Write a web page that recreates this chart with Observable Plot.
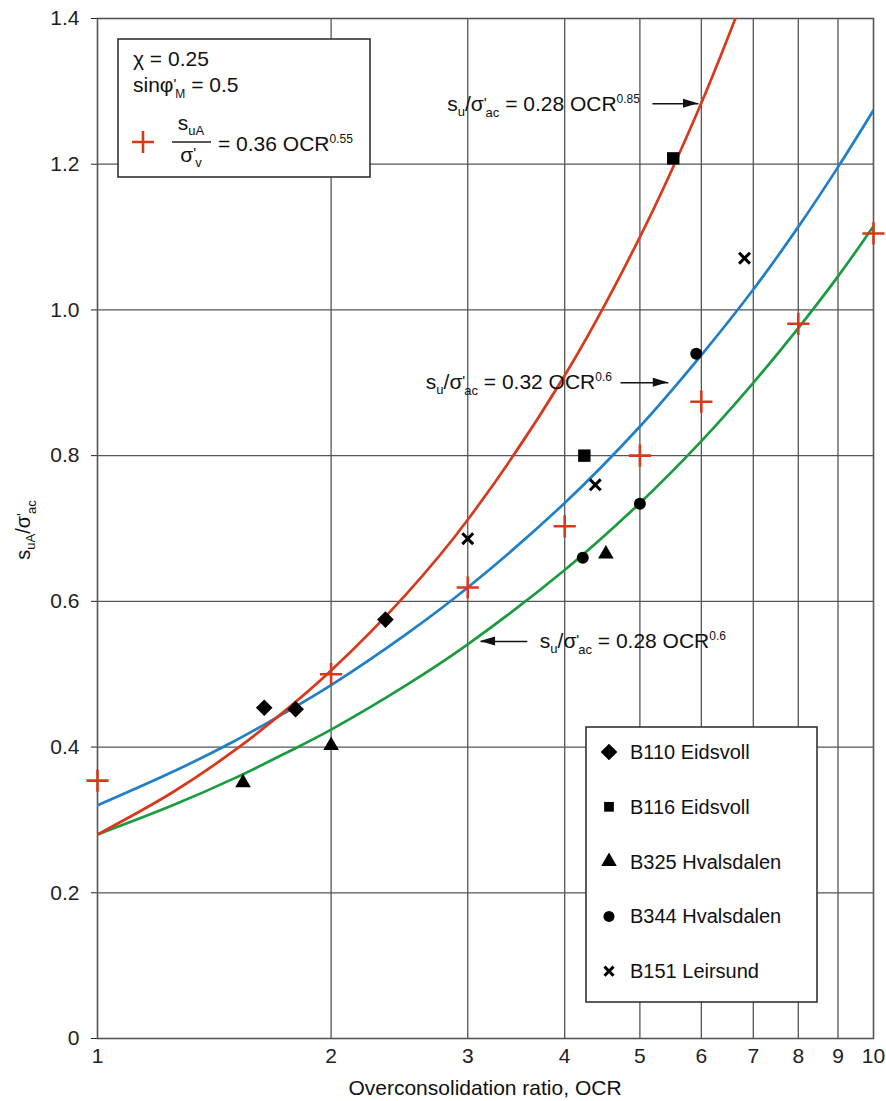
<!DOCTYPE html>
<html><head><meta charset="utf-8">
<script src="https://cdn.jsdelivr.net/npm/d3@7"></script>
<script src="https://cdn.jsdelivr.net/npm/@observablehq/plot@0.6"></script>
<style>
html,body{margin:0;padding:0;background:#fff;}
#chart svg{display:block;}
</style>
</head><body><div id="chart"></div>
<script>
// ---- data ----
const ocrTicks = [1, 2, 3, 4, 5, 6, 7, 8, 9, 10];
const yTicks = [0, 0.2, 0.4, 0.6, 0.8, 1.0, 1.2, 1.4];

// fitted curves, sampled along the drawn lines
const curveOCR   = [1, 1.25, 1.5, 1.75, 2, 2.5, 3, 4, 5, 6, 7, 8, 9, 10];
const redCurve   = [0.280, 0.338, 0.395, 0.451, 0.505, 0.610, 0.712, 0.910, 1.100, 1.284, 1.464];
const blueCurve  = [0.320, 0.366, 0.408, 0.448, 0.485, 0.555, 0.619, 0.735, 0.840, 0.938, 1.028, 1.114, 1.196, 1.274];
const greenCurve = [0.280, 0.320, 0.357, 0.392, 0.424, 0.485, 0.541, 0.643, 0.735, 0.820, 0.900, 0.975, 1.046, 1.115];

// red "+" : s_uA/σ'v = 0.36 OCR^0.55
const plusOCR = [1, 2, 3, 4, 5, 6, 8, 10];
const plusS   = [0.354, 0.500, 0.619, 0.703, 0.800, 0.874, 0.981, 1.105];

// test series
const seriesNames = ["B110 Eidsvoll", "B116 Eidsvoll", "B325 Hvalsdalen", "B344 Hvalsdalen", "B151 Leirsund"];
const b110OCR = [1.64, 1.80, 2.35];  const b110S = [0.454, 0.452, 0.575];
const b116OCR = [4.24, 5.52];        const b116S = [0.800, 1.208];
const b325OCR = [1.54, 2.00, 4.52];  const b325S = [0.351, 0.402, 0.665];
const b344OCR = [4.22, 5.00, 5.91];  const b344S = [0.660, 0.734, 0.940];
const b151OCR = [3.00, 4.38, 6.82];  const b151S = [0.686, 0.760, 1.071];

// annotation arrows
const arrowFromOCR = [5.19, 4.72, 3.58];
const arrowToOCR   = [5.95, 5.44, 3.116];
const arrowS       = [1.283, 0.900, 0.545];

// ---- build ----
const FONT = "'Liberation Sans', Arial, Helvetica, sans-serif";
const RED = "#d8391c", BLUE = "#1f7fc9", GREEN = "#1a9b3f", GRID = "#555";
const rows = (xs, ys) => ys.map((y, i) => ({ocr: xs[i], s: y}));
const arrows = arrowS.map((s, i) => ({x1: arrowFromOCR[i], x2: arrowToOCR[i], s}));

const fig = Plot.plot({
  width: 886, height: 1101,
  marginLeft: 97, marginRight: 13, marginTop: 18, marginBottom: 63,
  style: {fontFamily: FONT, fontSize: "21px", color: "#222", background: "#fff", overflow: "visible"},
  x: {type: "log", domain: [1, 10], ticks: ocrTicks, tickFormat: d => String(d), tickSize: 0, tickPadding: 10, label: null},
  y: {domain: [0, 1.4], ticks: yTicks, tickFormat: d => d === 0 ? "0" : d.toFixed(1), tickSize: 6, tickPadding: 12, label: null},
  marks: [
    Plot.ruleX(ocrTicks.slice(1, -1), {stroke: GRID, strokeWidth: 1.3}),
    Plot.ruleY(yTicks.slice(1, -1), {stroke: GRID, strokeWidth: 1.3}),
    Plot.frame({stroke: GRID, strokeWidth: 1.6}),
    Plot.line(rows(curveOCR, greenCurve), {x: "ocr", y: "s", stroke: GREEN, strokeWidth: 2.7, curve: "catmull-rom", clip: true}),
    Plot.line(rows(curveOCR, blueCurve), {x: "ocr", y: "s", stroke: BLUE, strokeWidth: 2.7, curve: "catmull-rom", clip: true}),
    Plot.line(rows(curveOCR, redCurve), {x: "ocr", y: "s", stroke: RED, strokeWidth: 2.7, curve: "catmull-rom", clip: true}),
    Plot.link(arrows, {x1: "x1", x2: "x2", y1: "s", y2: "s", stroke: "#111", strokeWidth: 1.6}),
    Plot.dot(rows(plusOCR, plusS), {x: "ocr", y: "s", symbol: "plus", r: 7.2, stroke: RED, strokeWidth: 2.6}),
    Plot.dot(rows(b110OCR, b110S), {x: "ocr", y: "s", symbol: "diamond2", r: 7.5, fill: "#000", stroke: "none"}),
    Plot.dot(rows(b116OCR, b116S), {x: "ocr", y: "s", symbol: "square", r: 7, fill: "#000", stroke: "none"}),
    Plot.dot(rows(b325OCR, b325S), {x: "ocr", y: "s", symbol: "triangle", r: 5.8, fill: "#000", stroke: "none"}),
    Plot.dot(rows(b344OCR, b344S), {x: "ocr", y: "s", symbol: "circle", r: 6, fill: "#000", stroke: "none"}),
    Plot.dot(rows(b151OCR, b151S), {x: "ocr", y: "s", symbol: "times", r: 5, stroke: "#000", strokeWidth: 3})
  ]
});
document.getElementById("chart").appendChild(fig);

const sxs = fig.scale("x"), sys = fig.scale("y");
const fx = sxs.apply ? v => sxs.apply(v) : d3.scaleLog(sxs.domain, sxs.range);
const fy = sys.apply ? v => sys.apply(v) : d3.scaleLinear(sys.domain, sys.range);
const svg = d3.select(fig);

// rich text helper (sub/superscripts via tspans)
function rich(parent, x, y, segs, size, anchor) {
  const t = parent.append("text").attr("x", x).attr("y", y)
    .attr("font-family", FONT).attr("font-size", size).attr("fill", "#111")
    .attr("text-anchor", anchor || "start");
  let cur = 0;
  segs.forEach(s => {
    const sh = s.shift || 0;
    const ts = t.append("tspan").text(s.t).attr("dy", sh - cur);
    if (s.size) ts.attr("font-size", s.size);
    if (s.dx) ts.attr("dx", s.dx);
    cur = sh;
  });
  return t;
}
const suSig = [{t: "s"}, {t: "u", shift: 5, size: 13}, {t: "/σ", shift: 0}, {t: "'", shift: -3, size: 15}, {t: "ac", shift: 6, size: 13, dx: -1}];

// arrowheads + annotation texts
arrows.forEach((a, i) => {
  const tx = fx(a.x2), ty = fy(a.s), dir = a.x2 > a.x1 ? 1 : -1;
  svg.append("path").attr("fill", "#111")
    .attr("d", `M${tx},${ty}L${tx - dir * 15},${ty - 4.5}L${tx - dir * 15},${ty + 4.5}Z`);
});
{
  const a0 = arrows[0], a1 = arrows[1], a2 = arrows[2];
  rich(svg, fx(a0.x1) - 12, fy(a0.s) + 8, [...suSig, {t: " = 0.28 OCR", shift: 0}, {t: "0.85", shift: -8, size: 12}], 21, "end");
  rich(svg, fx(a1.x1) - 8, fy(a1.s) + 7, [...suSig, {t: " = 0.32 OCR", shift: 0}, {t: "0.6", shift: -8, size: 12}], 21, "end");
  rich(svg, fx(a2.x1) + 13, fy(a2.s) + 7, [...suSig, {t: " = 0.28 OCR", shift: 0}, {t: "0.6", shift: -8, size: 12}], 21, "start");
}

// y-axis label
{
  const g = svg.append("g").attr("transform", "translate(30,530) rotate(-90)");
  rich(g, 0, 0, [{t: "s"}, {t: "uA", shift: 5, size: 13}, {t: "/σ", shift: 0}, {t: "'", shift: -3, size: 15}, {t: "ac", shift: 6, size: 13, dx: -1}], 20, "middle");
}
// x-axis title
svg.append("text").attr("x", (fx(1) + fx(10)) / 2).attr("y", 1095).attr("text-anchor", "middle")
  .attr("font-family", FONT).attr("font-size", 21).attr("fill", "#111").text("Overconsolidation ratio, OCR");

// top-left parameter box
{
  const g = svg.append("g");
  g.append("rect").attr("x", 118).attr("y", 39).attr("width", 252).attr("height", 138)
    .attr("fill", "#fff").attr("stroke", "#333").attr("stroke-width", 1.6);
  rich(g, 133, 66, [{t: "χ = 0.25"}], 21);
  rich(g, 133, 92, [{t: "sinφ"}, {t: "'", shift: -3, size: 15}, {t: "M", shift: 6, size: 12, dx: -1}, {t: " = 0.5", shift: 0}], 21);
  g.append("path").attr("d", "M132,142H154M143,131V153").attr("stroke", RED).attr("stroke-width", 2.6);
  rich(g, 191, 130, [{t: "s"}, {t: "uA", shift: 5, size: 13}], 21, "middle");
  g.append("path").attr("d", "M172,142H211").attr("stroke", "#222").attr("stroke-width", 1.3);
  rich(g, 191, 162, [{t: "σ"}, {t: "'", shift: -4, size: 15}, {t: "v", shift: 5, size: 13, dx: -1}], 21, "middle");
  rich(g, 218, 151, [{t: "= 0.36 OCR"}, {t: "0.55", shift: -8, size: 12}], 21);
}

// series legend box
{
  const g = svg.append("g");
  g.append("rect").attr("x", 586).attr("y", 727).attr("width", 231).attr("height", 275)
    .attr("fill", "#fff").attr("stroke", "#333").attr("stroke-width", 1.6);
  const syms = [
    {s: d3.symbolDiamond2, r: 7.5, fill: true},
    {s: d3.symbolSquare, r: 5.5, fill: true},
    {s: d3.symbolTriangle, r: 5.8, fill: true},
    {s: d3.symbolCircle, r: 5.5, fill: true},
    {s: d3.symbolTimes, r: 4.2, fill: false}
  ];
  seriesNames.forEach((name, i) => {
    const cy = 752 + i * 54.8;
    const p = g.append("path").attr("transform", `translate(609,${cy})`)
      .attr("d", d3.symbol(syms[i].s, Math.PI * syms[i].r * syms[i].r)());
    if (syms[i].fill) p.attr("fill", "#000"); else p.attr("fill", "none").attr("stroke", "#000").attr("stroke-width", 3);
    g.append("text").attr("x", 630).attr("y", cy + 7).attr("text-anchor", "start")
      .attr("font-family", FONT).attr("font-size", 20).attr("fill", "#111").text(name);
  });
}
</script>
</body></html>
